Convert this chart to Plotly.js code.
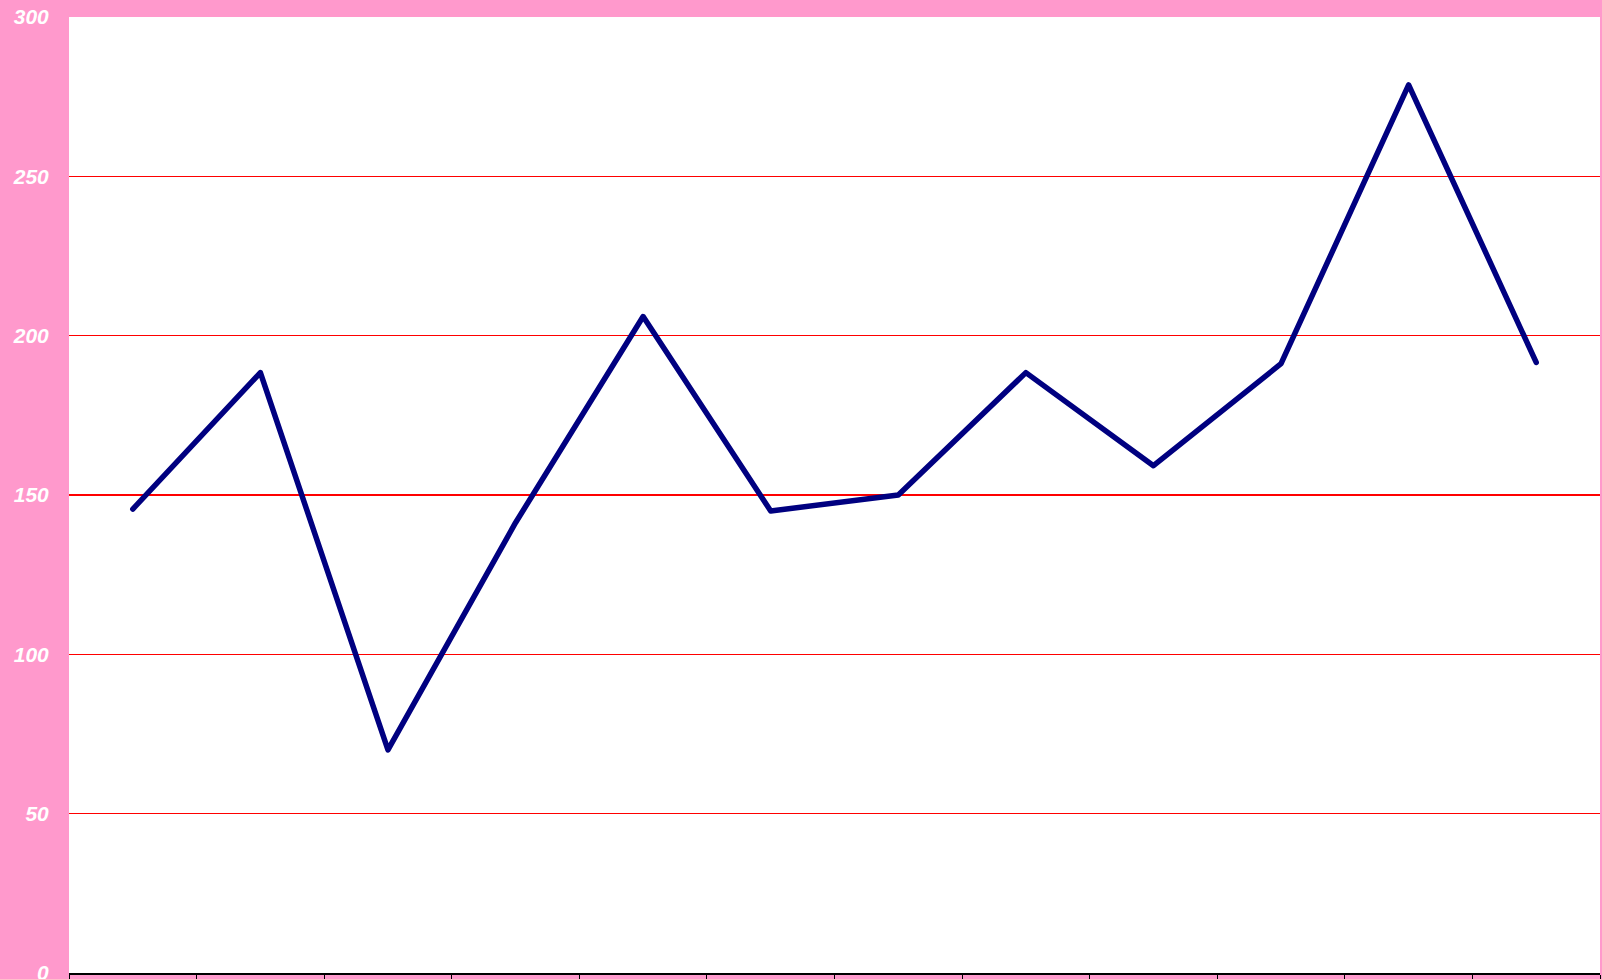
<!DOCTYPE html>
<html>
<head>
<meta charset="utf-8">
<script src="https://cdn.plot.ly/plotly-3.0.1.min.js"></script>
<style>html,body{margin:0;padding:0;background:#ff99cc;}#chart{width:1602px;height:979px;}
#chart .scatterlayer path.js-line{stroke-linejoin:round;stroke-linecap:round;}</style>
</head>
<body>
<div id="chart"></div>
<script>
const categories = ["1","2","3","4","5","6","7","8","9","10","11","12"];
const values = [145.6, 188.4, 70, 141.3, 206, 145, 150, 188.4, 159.2, 191.2, 278.7, 191.6];
const yTickValues = [0, 50, 100, 150, 200, 250, 300];
const yTickLabels = ["0", "50", "100", "150", "200", "250", "300"];

const trace = {
  x: categories,
  y: values,
  type: 'scatter',
  mode: 'lines',
  line: {color: '#000080', width: 5.5},
  hoverinfo: 'skip',
  showlegend: false
};

const layout = {
  width: 1602,
  height: 979,
  paper_bgcolor: '#ff99cc',
  plot_bgcolor: '#ffffff',
  margin: {l: 69, r: 2, t: 17, b: 6, pad: 0},
  showlegend: false,
  xaxis: {
    type: 'category',
    range: [-0.5, 11.5],
    showgrid: false,
    zeroline: false,
    showline: true,
    linecolor: '#000000',
    linewidth: 1.5,
    ticks: 'outside',
    tickson: 'boundaries',
    ticklen: 10,
    tickwidth: 1,
    tickcolor: '#000000',
    showticklabels: false,
    fixedrange: true
  },
  yaxis: {
    range: [0, 300],
    tickmode: 'array',
    tickvals: yTickValues,
    ticktext: yTickLabels,
    showgrid: true,
    gridcolor: '#ff0000',
    gridwidth: 1.5,
    zeroline: false,
    showline: false,
    ticks: 'outside',
    ticklen: 15,
    tickcolor: 'rgba(0,0,0,0)',
    ticklabeloverflow: 'allow',
    tickfont: {family: 'Liberation Sans, Arial, sans-serif', size: 21, color: '#ffffff', weight: 'bold', style: 'italic'},
    fixedrange: true
  }
};

Plotly.newPlot('chart', [trace], layout, {displayModeBar: false, staticPlot: true});
</script>
</body>
</html>
